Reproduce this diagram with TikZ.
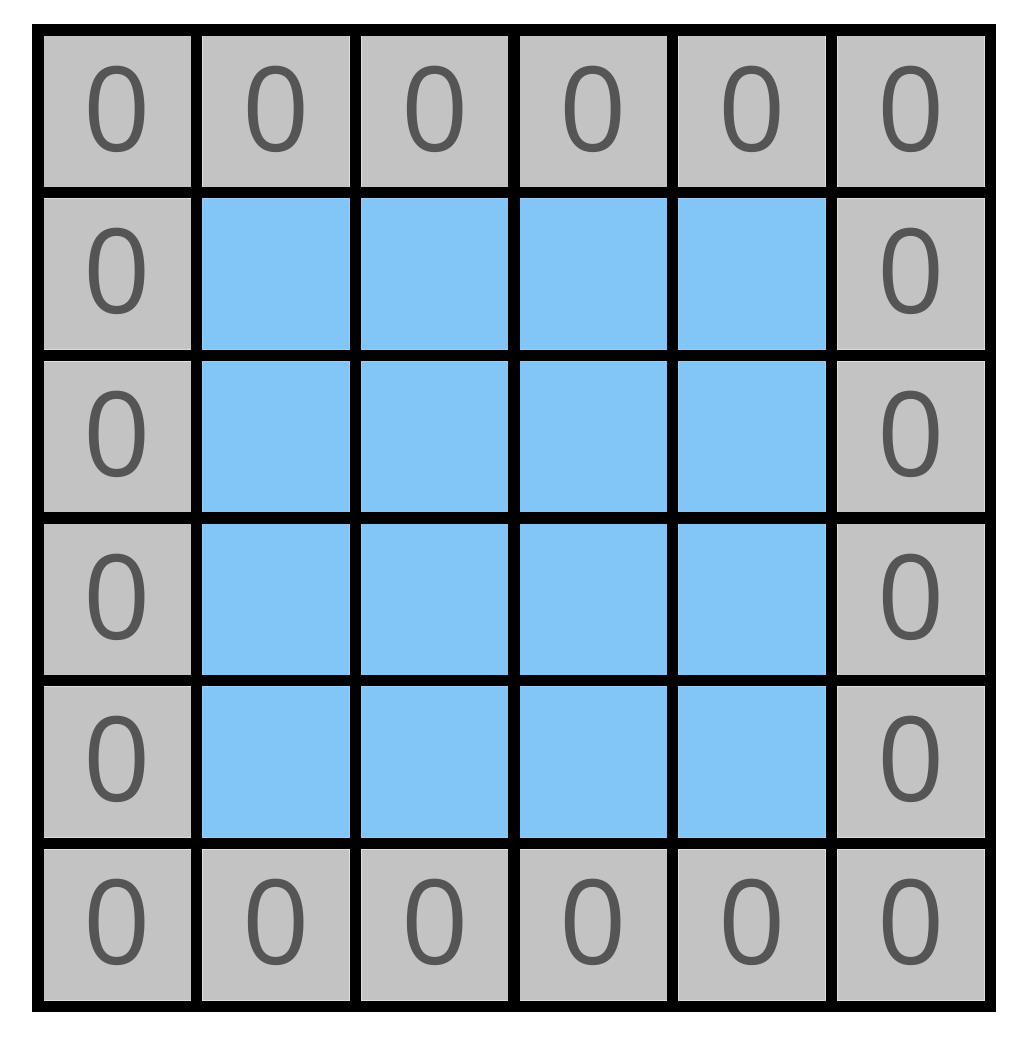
\documentclass[tikz,border=0pt]{standalone}
\usepackage{fontspec}
\newfontfamily\digitfont{Open Sans}
\definecolor{padgray}{RGB}{195,195,195}
\definecolor{padedge}{RGB}{222,222,222}
\definecolor{imgblue}{RGB}{130,198,248}
\definecolor{imgedge}{RGB}{150,208,250}
\definecolor{digitgray}{RGB}{85,85,85}
\tikzset{
	cellbox/.style={rectangle, inner sep=0pt, minimum width=2.95cm, minimum height=3.03cm, line width=0.6pt},
	padcell/.style={cellbox, fill=padgray, draw=padedge, text=digitgray, text depth=0.12cm, font=\digitfont\fontsize{67}{70}\selectfont},
	imgcell/.style={cellbox, fill=imgblue, draw=imgedge},
	gridline/.style={line width=6.4pt, line cap=rect}
}
\begin{document}
\begin{tikzpicture}
\useasboundingbox (0,0) rectangle (20.48,-20.8);

%========================================
% Cells: zero padding and image
%========================================
\begin{scope}[shift={(0.76,-0.6)}]
\foreach \r in {0,...,5}
\foreach \c in {0,...,5}{
	\pgfmathtruncatemacro\pad{(\r==0||\r==5||\c==0||\c==5)?1:0}
	\ifnum\pad=1
	\node[padcell] (cell-\r-\c) at ({(\c+0.5)*3.174},{-(\r+0.5)*3.254}) {0};
	\else
	\node[imgcell] (cell-\r-\c) at ({(\c+0.5)*3.174},{-(\r+0.5)*3.254}) {};
	\fi
}

% Grid lines
\foreach \c in {0,...,6}
\draw[gridline] ({\c*3.174},0) -- ({\c*3.174},-19.524);
\foreach \r in {0,...,6}
\draw[gridline] (0,{-\r*3.254}) -- (19.044,{-\r*3.254});
\end{scope}
\end{tikzpicture}
\end{document}
